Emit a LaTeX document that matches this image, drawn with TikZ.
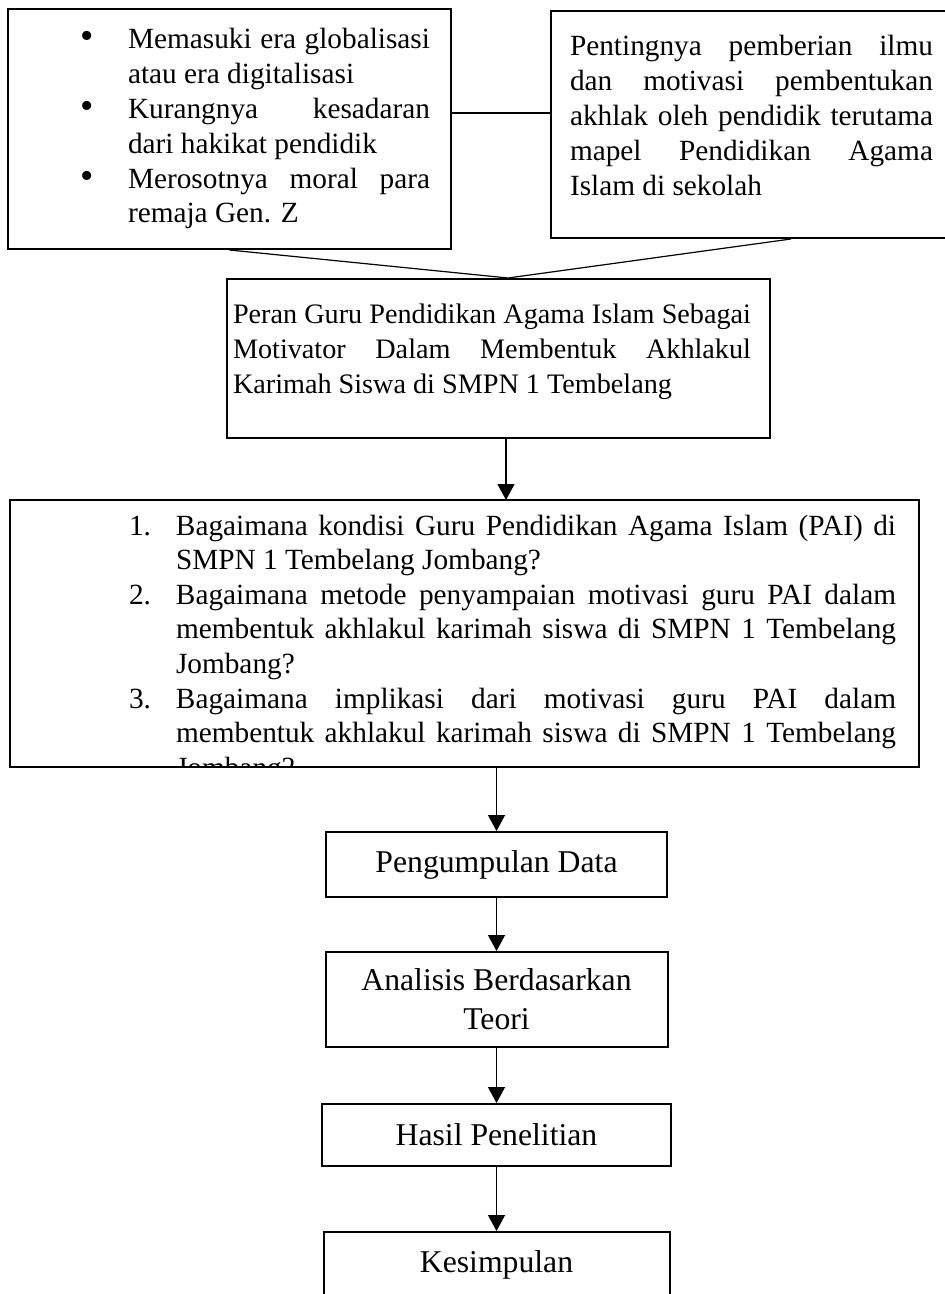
\documentclass[tikz,border=0pt]{standalone}
\usepackage{fontspec}
\setmainfont{Liberation Serif}
\usetikzlibrary{shapes,arrows.meta}
\tikzstyle{kotak} = [rectangle, draw, line width=1pt, inner sep=0pt, anchor=north west]
\tikzstyle{block} = [rectangle, draw, line width=1pt, inner sep=0pt, align=center,
    font=\fontsize{15.85pt}{19.5pt}\selectfont]
\tikzstyle{line} = [draw, line width=0.6pt, -{Triangle[width=8.5pt,length=8pt]}]
\tikzstyle{garis} = [draw, line width=0.6pt]
\newlength{\lebar}
\newcommand{\baris}[1]{\makebox[\lebar][s]{#1}}
\newcommand{\atas}{\fontsize{14.65pt}{17.4pt}\selectfont}
\newcommand{\titik}{\llap{{\fontsize{19pt}{17.4pt}\selectfont\textbullet}\hspace{17pt}}}

\begin{document}
\begin{tikzpicture}[x=0.5pt, y=-0.5pt, node distance=67.5pt]
    \useasboundingbox (0,0) rectangle (945,1294);
    % Place nodes
    \node [kotak] (masalah) at (7,8) {\parbox[c][120pt][t]{221.5pt}{\atas\setlength{\lebar}{151pt}%
        \vspace*{7.8pt}
        \hspace*{60pt}\baris{\strut\titik Memasuki era globalisasi}\\
        \hspace*{60pt}atau era digitalisasi\\
        \hspace*{60pt}\baris{\titik Kurangnya kesadaran}\\
        \hspace*{60pt}dari hakikat pendidik\\
        \hspace*{60pt}\baris{\titik Merosotnya moral para}\\
        \hspace*{60pt}remaja Gen. Z}};
    \node [kotak] (kanan) at (550,10) {\parbox[c][113.5pt][t]{240pt}{\atas\setlength{\lebar}{181.5pt}%
        \vspace*{10.3pt}
        \hspace*{9.5pt}\baris{\strut Pentingnya pemberian ilmu}\\
        \hspace*{9.5pt}\baris{dan motivasi pembentukan}\\
        \hspace*{9.5pt}\baris{akhlak oleh pendidik terutama}\\
        \hspace*{9.5pt}\baris{mapel Pendidikan Agama}\\
        \hspace*{9.5pt}Islam di sekolah}};
    \node [kotak] (judul) at (226,278) {\parbox[c][79.5pt][t]{271.5pt}{\fontsize{14.1pt}{17.5pt}\selectfont
        \setlength{\lebar}{259pt}%
        \vspace*{10.25pt}
        \hspace*{3pt}\baris{\strut Peran Guru Pendidikan Agama Islam Sebagai}\\
        \hspace*{3pt}\baris{Motivator Dalam Membentuk Akhlakul}\\
        \hspace*{3pt}Karimah Siswa di SMPN 1 Tembelang}};
    \begin{scope}
        \clip (10,500) rectangle (917,765);
        \node [kotak, draw=none] (rumusan) at (10,500) {\parbox[c][132.5pt][t]{453.5pt}{%
            \fontsize{14.65pt}{17.3pt}\selectfont\setlength{\lebar}{360pt}%
            \vspace*{4.9pt}
            \hspace*{82.5pt}\baris{\strut\llap{1.\hspace{12.5pt}}Bagaimana kondisi Guru Pendidikan Agama Islam (PAI) di}\\
            \hspace*{82.5pt}SMPN 1 Tembelang Jombang?\\
            \hspace*{82.5pt}\baris{\llap{2.\hspace{12.5pt}}Bagaimana metode penyampaian motivasi guru PAI dalam}\\
            \hspace*{82.5pt}\baris{membentuk akhlakul karimah siswa di SMPN 1 Tembelang}\\
            \hspace*{82.5pt}Jombang?\\
            \hspace*{82.5pt}\baris{\llap{3.\hspace{12.5pt}}Bagaimana implikasi dari motivasi guru PAI dalam}\\
            \hspace*{82.5pt}\baris{membentuk akhlakul karimah siswa di SMPN 1 Tembelang}\\
            \hspace*{82.5pt}Jombang?}};
    \end{scope}
    \draw [line width=1pt] (rumusan.north west) rectangle (rumusan.south east);
    \node [block, minimum width=170.5pt, minimum height=32.5pt] (data) at (496.5,864.5) {Pengumpulan Data};
    \node [block, below of=data, minimum width=171pt, minimum height=47.5pt] (analisis) {Analisis Berdasarkan\\Teori};
    \node [block, below of=analisis, node distance=67.75pt, minimum width=174.5pt, minimum height=31pt] (hasil) {Hasil Penelitian};
    \node [block, below of=hasil, node distance=64.75pt, minimum width=173pt, minimum height=32.5pt] (simpulan) {Kesimpulan};
    % Draw edges
    \coordinate (sambung) at ([yshift=8pt]masalah.east);
    \coordinate (temu) at ([xshift=4.75pt]judul.north);
    \coordinate (pusat) at ([xshift=3.75pt]judul.south);
    \path [garis] (sambung) -- (sambung -| kanan.west);
    \path [garis] (masalah.south) -- (temu) -- (kanan.south);
    \path [line] (pusat) -- (pusat |- rumusan.north);
    \path [line] (data.north |- rumusan.south) -- (data);
    \path [line] (data) -- (analisis);
    \path [line] (analisis) -- (hasil);
    \path [line] (hasil) -- (simpulan);
\end{tikzpicture}
\end{document}
